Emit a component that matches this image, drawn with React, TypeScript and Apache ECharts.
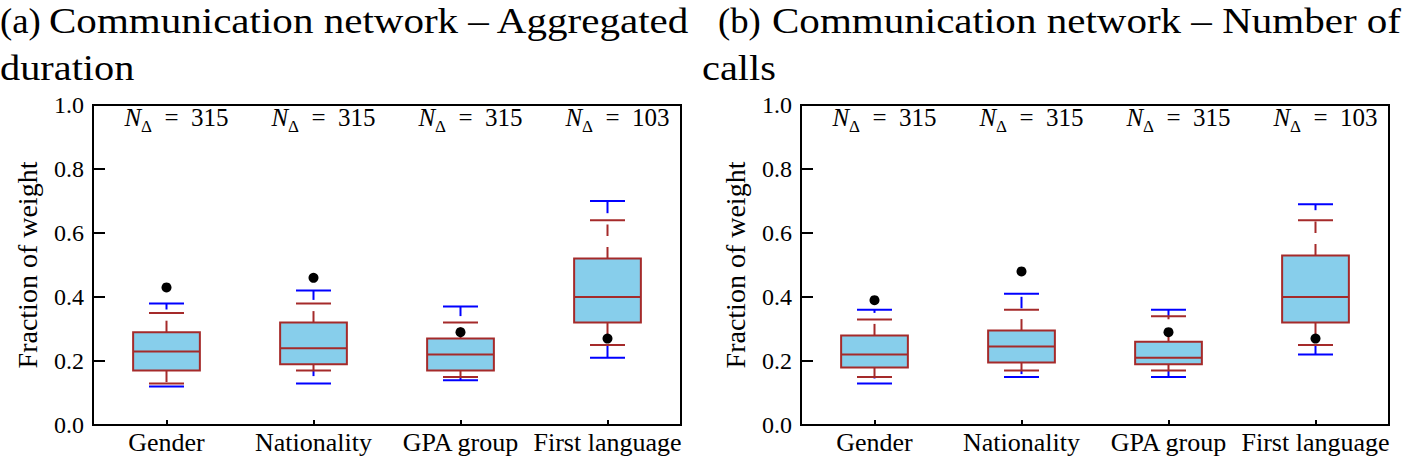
import React, { useEffect, useRef } from "react";
import * as echarts from "echarts";

// ---------- data ----------
const categories = ["Gender", "Nationality", "GPA group", "First language"];
const nDelta = [315, 315, 315, 103];
const yTicks = [0, 0.2, 0.4, 0.6, 0.8, 1.0];

// Panel (a): Aggregated duration
const blueLowA = [0.12, 0.13, 0.14, 0.21];
const brownLowA = [0.13, 0.17, 0.15, 0.25];
const q1A = [0.17, 0.19, 0.17, 0.32];
const medianA = [0.23, 0.24, 0.22, 0.40];
const q3A = [0.29, 0.32, 0.27, 0.52];
const brownHighA = [0.35, 0.38, 0.32, 0.64];
const blueHighA = [0.38, 0.42, 0.37, 0.70];
const observedA = [0.43, 0.46, 0.29, 0.27];

// Panel (b): Number of calls
const blueLowB = [0.13, 0.15, 0.15, 0.22];
const brownLowB = [0.15, 0.17, 0.17, 0.25];
const q1B = [0.18, 0.195, 0.19, 0.32];
const medianB = [0.22, 0.245, 0.21, 0.40];
const q3B = [0.28, 0.295, 0.26, 0.53];
const brownHighB = [0.33, 0.36, 0.34, 0.64];
const blueHighB = [0.36, 0.41, 0.36, 0.69];
const observedB = [0.39, 0.48, 0.29, 0.27];

// ---------- style ----------
const SERIF = "Liberation Serif";
const BLUE = "#0000ff";
const BROWN = "#a52a2a";
const FILL = "#87ceeb";
const LABEL_Y = 0.96;

function buildRows(bl: number[], rl: number[], q1: number[], md: number[], q3: number[], rh: number[], bh: number[]) {
  return categories.map((_, i) => [i, bl[i], rl[i], q1[i], md[i], q3[i], rh[i], bh[i]]);
}

const renderBox = (params: any, api: any) => {
  const i = api.value(0);
  const x = api.coord([i, 0])[0];
  const band = api.size([1, 0])[0];
  const half = band * 0.227;
  const cap = band * 0.119;
  const py = (k: number) => api.coord([i, api.value(k)])[1];
  const bLo = py(1), rLo = py(2), q1 = py(3), med = py(4), q3 = py(5), rHi = py(6), bHi = py(7);
  const dash = [11.5, 11];
  const seg = (y1: number, y2: number, color: string, offset: number) => ({
    type: "line",
    shape: { x1: x, y1, x2: x, y2 },
    style: { stroke: color, lineWidth: 2, lineDash: dash, lineDashOffset: offset },
  });
  const capLine = (yy: number, color: string) => ({
    type: "line",
    shape: { x1: x - cap, y1: yy, x2: x + cap, y2: yy },
    style: { stroke: color, lineWidth: 2 },
  });
  return {
    type: "group",
    children: [
      seg(rHi, bHi, BLUE, Math.abs(q3 - rHi)),
      seg(rLo, bLo, BLUE, Math.abs(rLo - q1)),
      capLine(bHi, BLUE),
      capLine(bLo, BLUE),
      seg(q3, rHi, BROWN, 0),
      seg(q1, rLo, BROWN, 0),
      capLine(rHi, BROWN),
      capLine(rLo, BROWN),
      {
        type: "rect",
        shape: { x: x - half, y: q3, width: half * 2, height: q1 - q3 },
        style: { fill: FILL, stroke: BROWN, lineWidth: 2 },
      },
      {
        type: "line",
        shape: { x1: x - half, y1: med, x2: x + half, y2: med },
        style: { stroke: BROWN, lineWidth: 2 },
      },
    ],
  };
};

const txt = (size: number, extra: any = {}) => ({ fontFamily: SERIF, fontSize: size, color: "#000", ...extra });

function panelSeries(idx: number, rows: any[], observed: number[]) {
  return [
    {
      type: "custom",
      xAxisIndex: idx,
      yAxisIndex: idx,
      renderItem: renderBox,
      encode: { x: 0, y: [1, 2, 3, 4, 5, 6, 7] },
      data: rows,
      z: 2,
    },
    {
      type: "scatter",
      xAxisIndex: idx,
      yAxisIndex: idx,
      symbolSize: 10,
      itemStyle: { color: "#000", opacity: 1 },
      data: observed.map((v, i) => [i, v]),
      z: 5,
    },
    {
      type: "scatter",
      xAxisIndex: idx,
      yAxisIndex: idx,
      symbolSize: 0,
      silent: true,
      itemStyle: { opacity: 1, color: "#000" },
      data: nDelta.map((n, i) => ({ value: [i, LABEL_Y], n })),
      label: {
        show: true,
        position: "inside",
        offset: [10, 0],
        opacity: 1,
        formatter: (p: any) => `{n|N}{s|\u0394}{e|\u2002=\u2002${p.data.n}}`,
        rich: {
          n: txt(25, { fontStyle: "italic", lineHeight: 34, verticalAlign: "middle" }),
          s: txt(17, { lineHeight: 17, verticalAlign: "bottom" }),
          e: txt(25, { lineHeight: 34, verticalAlign: "middle" }),
        },
      },
      z: 6,
    },
  ];
}

export default function App() {
  const ref = useRef<HTMLDivElement>(null);
  useEffect(() => {
    if (!ref.current) return;
    const chart = echarts.init(ref.current, null, { renderer: "svg" });
    const grids = [
      { left: 93, top: 105, width: 588, height: 320 },
      { left: 801, top: 105, width: 588, height: 320 },
    ].map((g) => ({ ...g, show: true, borderColor: "#000", borderWidth: 2, backgroundColor: "transparent" }));

    const xAxes = [0, 1].map((i) => ({
      type: "category",
      gridIndex: i,
      data: categories,
      axisLine: { show: false },
      axisTick: { show: true, inside: true, length: 5, alignWithLabel: true, lineStyle: { color: "#000", width: 2 } },
      axisLabel: { ...txt(26), interval: 0, margin: 4 },
      splitLine: { show: false },
    }));
    const yAxes = [0, 1].map((i) => ({
      type: "value",
      gridIndex: i,
      min: yTicks[0],
      max: yTicks[yTicks.length - 1],
      interval: 0.2,
      axisLine: { show: false },
      axisTick: { show: true, inside: true, length: 12, lineStyle: { color: "#000", width: 2 } },
      axisLabel: { ...txt(24), margin: 9, formatter: (v: number) => v.toFixed(1) },
      splitLine: { show: false },
      name: "Fraction of weight",
      nameLocation: "middle",
      nameRotate: 90,
      nameGap: 52,
      nameTextStyle: txt(28),
    }));

    const titleStyle = (text: string) => ({ text, fontFamily: SERIF, fontSize: 36, fill: "#000", verticalAlign: "middle", align: "left" });
    const graphic = [
      { type: "text", x: 0, y: 21, scaleX: 1.02, style: titleStyle("(a)") },
      { type: "text", x: 49, y: 21, scaleX: 1.14, style: titleStyle("Communication network \u2013 Aggregated") },
      { type: "text", x: 0, y: 68, scaleX: 1.12, style: titleStyle("duration") },
      { type: "text", x: 718, y: 21, scaleX: 1.02, style: titleStyle("(b)") },
      { type: "text", x: 772, y: 21, scaleX: 1.14, style: titleStyle("Communication network \u2013 Number of") },
      { type: "text", x: 702, y: 68, scaleX: 1.12, style: titleStyle("calls") },
    ];

    chart.setOption({
      animation: false,
      textStyle: { fontFamily: SERIF },
      grid: grids,
      xAxis: xAxes,
      yAxis: yAxes,
      graphic,
      series: [
        ...panelSeries(0, buildRows(blueLowA, brownLowA, q1A, medianA, q3A, brownHighA, blueHighA), observedA),
        ...panelSeries(1, buildRows(blueLowB, brownLowB, q1B, medianB, q3B, brownHighB, blueHighB), observedB),
      ],
    });
    return () => chart.dispose();
  }, []);
  return <div ref={ref} style={{ position: "absolute", left: 0, top: 0, width: 1402, height: 457 }} />;
}
